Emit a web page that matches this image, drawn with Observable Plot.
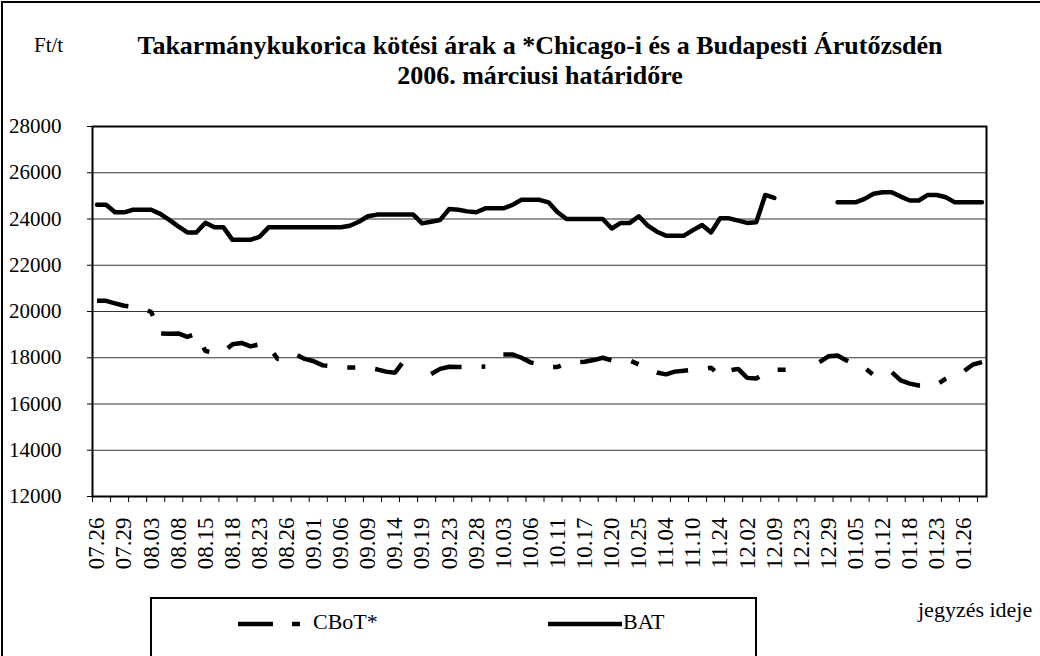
<!DOCTYPE html>
<html>
<head>
<meta charset="utf-8">
<script src="https://cdn.jsdelivr.net/npm/d3@7"></script>
<script src="https://cdn.jsdelivr.net/npm/@observablehq/plot@0.6"></script>
<style>
  body { margin: 0; background: #fff; }
  #wrap { position: relative; width: 1040px; height: 656px; overflow: hidden; background: #fff;
          font-family: "Liberation Serif", "Times New Roman", serif; color: #000; }
  #outer { position: absolute; left: 1px; top: 1px; width: 1200px; height: 800px;
           border-left: 2px solid #000; border-top: 2px solid #000; }
  #chart { position: absolute; left: 0; top: 0; }
  svg text, svg g { font-family: "Liberation Serif", serif !important; }
  .title { position: absolute; left: 0; width: 1080px; text-align: center; font-weight: bold; font-size: 26px; line-height: 30px; white-space: nowrap; }
  #unit { position: absolute; left: 34px; top: 33px; font-size: 21px; }
  #legend { position: absolute; left: 150px; top: 597px; width: 603px; height: 100px;
            border: 2px solid #000; }
  .leg { position: absolute; font-size: 22px; top: 10px; }
  #xname { position: absolute; left: 918px; top: 597px; font-size: 22px; white-space: nowrap; }
</style>
</head>
<body>
<div id="wrap">
  <div id="outer"></div>
  <div id="plot"></div>
  <div id="unit">Ft/t</div>
  <div class="title" style="top:31px">Takarmánykukorica kötési árak a *Chicago-i és a Budapesti Árutőzsdén</div>
  <div class="title" style="top:61px">2006. márciusi határidőre</div>
  <div id="legend">
    <svg width="603" height="60" style="position:absolute;left:0;top:0">
      <line x1="86" x2="152" y1="25" y2="25" stroke="#000" stroke-width="4.5" stroke-dasharray="35,19,8,19"></line>
      <line x1="396" x2="470" y1="25" y2="25" stroke="#000" stroke-width="4.5"></line>
    </svg>
    <div class="leg" style="left:161px">CBoT*</div>
    <div class="leg" style="left:471px">BAT</div>
  </div>
  <div id="xname">jegyzés ideje</div>
</div>
<script>
// Category tick labels (every third trading day is labelled)
const tickLabels = ["07.26","07.29","08.03","08.08","08.15","08.18","08.23","08.26","09.01","09.06",
  "09.09","09.14","09.19","09.23","09.28","10.03","10.06","10.11","10.17","10.20","10.25","11.04",
  "11.10","11.24","12.02","12.09","12.23","12.29","01.05","01.12","01.18","01.23","01.26"];
const labelEvery = 3;

// CBoT* (Ft/t), one value per trading day; null = no quote
const cbot = [20460,20460,20350,20250,20200,20150,19980,19050,19040,19050,
  18900,19040,18290,18220,18250,18580,18640,18490,18580,18490,
  17950,17950,18150,17950,17850,17670,17640,17590,17580,17570,
  17570,17500,17400,17350,17880,17930,null,17300,17520,17610,
  17600,17600,17600,17620,null,18145,18145,18000,17800,17700,
  17600,17600,17770,17800,17830,17900,18000,17880,17880,17880,
  17710,17500,17360,17280,17400,17440,17480,17500,17570,17230,
  17450,17520,17130,17100,17330,17480,17480,17480,null,null,
  17810,18060,18100,17880,17700,17570,17250,17300,17380,17020,
  16880,16800,16780,16840,17100,17290,17420,17710,17810];

// BAT (Ft/t); null = no quote
const bat = [24620,24620,24290,24290,24400,24400,24400,24220,23960,23680,
  23420,23420,23840,23640,23640,23100,23100,23100,23230,23640,
  23640,23640,23640,23640,23640,23640,23640,23640,23710,23880,
  24120,24190,24200,24200,24200,24200,23810,23880,23960,24430,
  24400,24330,24290,24460,24460,24460,24610,24830,24830,24830,
  24720,24290,24000,24000,24000,24000,24000,23590,23830,23830,
  24120,23710,23450,23280,23280,23280,23520,23740,23420,24030,
  24030,23930,23830,23860,25040,24910,null,null,null,null,
  null,null,24720,24720,24720,24870,25090,25160,25160,24970,
  24800,24800,25040,25040,24940,24720,24720,24720,24720];

const yTicks = [12000,14000,16000,18000,20000,22000,24000,26000,28000];

// split a series into contiguous runs (a missing quote breaks the line)
function rows(values, name) {
  const out = []; let run = 0, gap = false;
  values.forEach((v, i) => {
    if (v == null) { if (!gap) run++; gap = true; return; }
    gap = false;
    out.push({i, v, run: name + run});
  });
  return out;
}
const cbotRows = rows(cbot, "cbot");
const batRows = rows(bat, "bat");
const n = cbot.length;
const serif = "Liberation Serif";

const chart = Plot.plot({
  width: 1040, height: 600,
  marginTop: 126, marginLeft: 92, marginRight: 54, marginBottom: 104,
  x: {type: "linear", domain: [-0.5, n - 0.5], axis: null},
  y: {domain: [12000, 28000], axis: null},
  style: {fontFamily: serif, fontSize: "22px", color: "#000", background: "transparent", overflow: "visible"},
  marks: [
    Plot.gridY(yTicks, {stroke: "#000", strokeOpacity: 0.8, strokeWidth: 1}),
    Plot.axisY(yTicks, {tickSize: 5, tickPadding: 26, tickFormat: d => String(d), fontSize: 21, fontFamily: serif, label: null}),
    Plot.axisX(d3.range(-0.5, n, 2), {tickSize: 6, tickFormat: () => "", label: null}),
    Plot.axisX(d3.range(0, n, labelEvery), {tickSize: 0, tickPadding: 21, tickRotate: -90,
      tickFormat: i => tickLabels[i / labelEvery], fontSize: 23, fontFamily: serif, label: null}),
    Plot.line(batRows, {x: "i", y: "v", z: "run", stroke: "#000", strokeWidth: 4.5,
      strokeLinejoin: "round", strokeLinecap: "round"}),
    Plot.line(cbotRows, {x: "i", y: "v", z: "run", stroke: "#000", strokeWidth: 4.5,
      strokeDasharray: "32,20,8,20", strokeLinecap: "butt", strokeLinejoin: "miter"}),
    Plot.frame({stroke: "#000", strokeWidth: 2})
  ]
});
chart.setAttribute("id", "chart");
document.getElementById("plot").appendChild(chart);
</script>
</body>
</html>
